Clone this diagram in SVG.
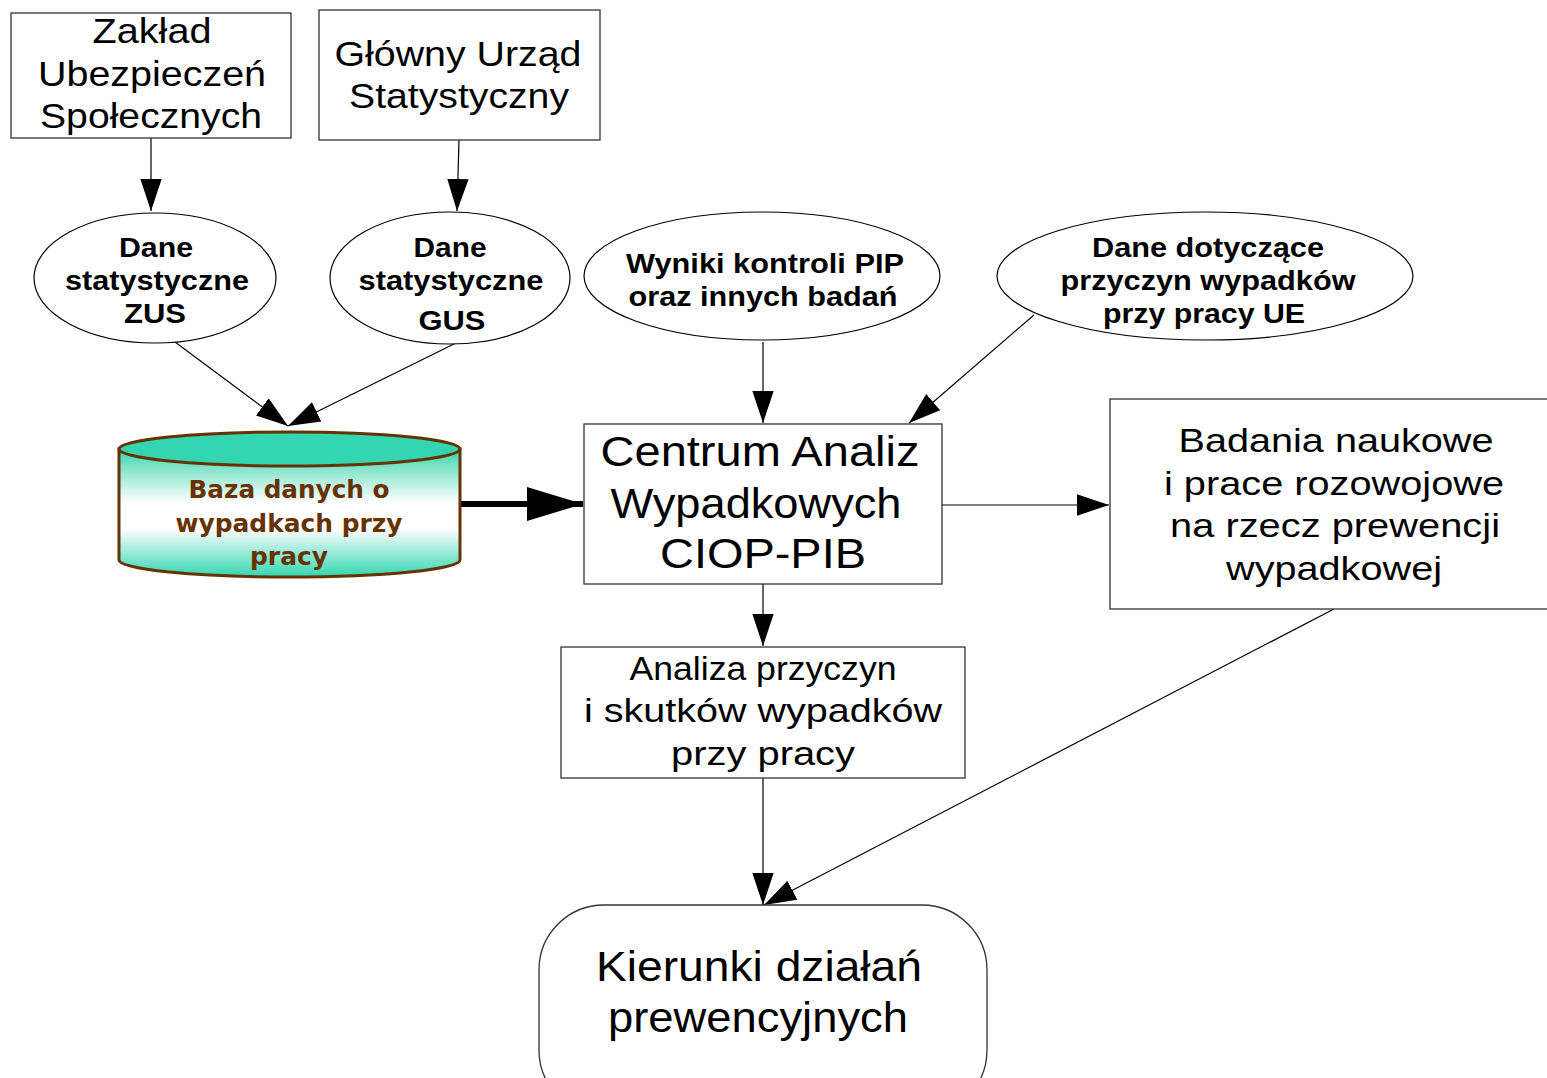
<svg xmlns="http://www.w3.org/2000/svg" width="1547" height="1078" viewBox="0 0 1547 1078">
<defs>
<style>
.box{fill:#fff;stroke:#333;stroke-width:1.3}
.ell{fill:#fff;stroke:#000;stroke-width:1.2}
.t{font-family:"Liberation Sans",Arial,sans-serif;fill:#000;text-anchor:middle}
.b{font-family:"Liberation Sans",Arial,sans-serif;font-weight:bold;fill:#000;text-anchor:middle}
.db{font-family:"DejaVu Sans",Verdana,sans-serif;font-weight:bold;fill:#663300;text-anchor:middle}
.ln{stroke:#000;stroke-width:1.2;fill:none;marker-end:url(#ah)}
</style>
<marker id="ah" markerUnits="userSpaceOnUse" markerWidth="32" markerHeight="24" viewBox="0 0 30 20" refX="30" refY="10" orient="auto">
<path d="M0,0 L30,10 L0,20 Z" fill="#000"/>
</marker>
<marker id="ahBig" markerUnits="userSpaceOnUse" markerWidth="56" markerHeight="34" viewBox="0 0 56 34" refX="56" refY="17" orient="auto">
<path d="M0,0 L56,17 L0,34 Z" fill="#000"/>
</marker>
<linearGradient id="cyl" x1="0" y1="0" x2="0" y2="1">
<stop offset="0" stop-color="#33d6b0"/>
<stop offset="0.14" stop-color="#7fe3c8"/>
<stop offset="0.42" stop-color="#ffffff"/>
<stop offset="0.62" stop-color="#ffffff"/>
<stop offset="1" stop-color="#33d6b0"/>
</linearGradient>
</defs>
<rect width="1547" height="1078" fill="#fff"/>

<g id="connectors">
<line class="ln" x1="151" y1="138" x2="151" y2="211"/>
<line class="ln" x1="459" y1="140" x2="457" y2="211"/>
<line class="ln" x1="175" y1="342" x2="288" y2="426"/>
<line class="ln" x1="458" y1="342" x2="288" y2="426"/>
<line class="ln" x1="763" y1="342" x2="763" y2="423"/>
<line class="ln" x1="1034" y1="315" x2="909" y2="423"/>
<line x1="460" y1="504" x2="583" y2="504" stroke="#000" stroke-width="6" marker-end="url(#ahBig)"/>
<line class="ln" x1="942" y1="505" x2="1109" y2="505"/>
<line class="ln" x1="763" y1="584" x2="763" y2="646"/>
<line class="ln" x1="763" y1="778" x2="763" y2="905"/>
<line class="ln" x1="1334" y1="609" x2="764" y2="905"/>
</g>

<g id="zus">
<rect class="box" x="11" y="13" width="280" height="125"/>
<text class="t" font-size="35" x="152" y="43" textLength="119" lengthAdjust="spacingAndGlyphs">Zakład</text>
<text class="t" font-size="35" x="152" y="86" textLength="228" lengthAdjust="spacingAndGlyphs">Ubezpieczeń</text>
<text class="t" font-size="35" x="151" y="128" textLength="222" lengthAdjust="spacingAndGlyphs">Społecznych</text>
</g>

<g id="gus">
<rect class="box" x="319" y="10" width="281" height="130"/>
<text class="t" font-size="35" x="458" y="66" textLength="247" lengthAdjust="spacingAndGlyphs">Główny Urząd</text>
<text class="t" font-size="35" x="459" y="108" textLength="220" lengthAdjust="spacingAndGlyphs">Statystyczny</text>
</g>

<g id="dane-zus">
<ellipse class="ell" cx="155" cy="278" rx="121" ry="65"/>
<text class="b" font-size="27" x="156" y="257" textLength="74" lengthAdjust="spacingAndGlyphs">Dane</text>
<text class="b" font-size="27" x="157" y="290" textLength="184" lengthAdjust="spacingAndGlyphs">statystyczne</text>
<text class="b" font-size="27" x="155" y="323" textLength="62" lengthAdjust="spacingAndGlyphs">ZUS</text>
</g>

<g id="dane-gus">
<ellipse class="ell" cx="450" cy="278" rx="120" ry="66"/>
<text class="b" font-size="27" x="450" y="257" textLength="73" lengthAdjust="spacingAndGlyphs">Dane</text>
<text class="b" font-size="27" x="451" y="290" textLength="185" lengthAdjust="spacingAndGlyphs">statystyczne</text>
<text class="b" font-size="27" x="452" y="330" textLength="67" lengthAdjust="spacingAndGlyphs">GUS</text>
</g>

<g id="pip">
<ellipse class="ell" cx="762" cy="276" rx="178" ry="64"/>
<text class="b" font-size="27" x="765" y="273" textLength="278" lengthAdjust="spacingAndGlyphs">Wyniki kontroli PIP</text>
<text class="b" font-size="27" x="763" y="306" textLength="269" lengthAdjust="spacingAndGlyphs">oraz innych badań</text>
</g>

<g id="ue">
<ellipse class="ell" cx="1205" cy="276" rx="208" ry="64"/>
<text class="b" font-size="27" x="1208" y="257" textLength="232" lengthAdjust="spacingAndGlyphs">Dane dotyczące</text>
<text class="b" font-size="27" x="1208" y="290" textLength="295" lengthAdjust="spacingAndGlyphs">przyczyn wypadków</text>
<text class="b" font-size="27" x="1204" y="323" textLength="202" lengthAdjust="spacingAndGlyphs">przy pracy UE</text>
</g>

<g id="baza">
<path d="M119,449 L119,560 A170.5,17 0 0 0 460,560 L460,449 Z" fill="url(#cyl)" stroke="#663300" stroke-width="3"/>
<ellipse cx="289.5" cy="449" rx="170.5" ry="17" fill="#33d6b0" stroke="#663300" stroke-width="3"/>
<text class="db" font-size="24" x="289" y="498" textLength="201" lengthAdjust="spacingAndGlyphs">Baza danych o</text>
<text class="db" font-size="24" x="289" y="532" textLength="227" lengthAdjust="spacingAndGlyphs">wypadkach przy</text>
<text class="db" font-size="24" x="289" y="565" textLength="78" lengthAdjust="spacingAndGlyphs">pracy</text>
</g>

<g id="centrum">
<rect class="box" x="584" y="424" width="358" height="160"/>
<text class="t" font-size="42" x="760" y="466" textLength="319" lengthAdjust="spacingAndGlyphs">Centrum Analiz</text>
<text class="t" font-size="42" x="756" y="518" textLength="291" lengthAdjust="spacingAndGlyphs">Wypadkowych</text>
<text class="t" font-size="42" x="763" y="568" textLength="206" lengthAdjust="spacingAndGlyphs">CIOP-PIB</text>
</g>

<g id="badania">
<rect class="box" x="1110" y="399" width="445" height="210"/>
<text class="t" font-size="34" x="1336" y="452" textLength="315" lengthAdjust="spacingAndGlyphs">Badania naukowe</text>
<text class="t" font-size="34" x="1334" y="495" textLength="340" lengthAdjust="spacingAndGlyphs">i prace rozowojowe</text>
<text class="t" font-size="34" x="1335" y="537" textLength="330" lengthAdjust="spacingAndGlyphs">na rzecz prewencji</text>
<text class="t" font-size="34" x="1334" y="580" textLength="216" lengthAdjust="spacingAndGlyphs">wypadkowej</text>
</g>

<g id="analiza">
<rect class="box" x="561" y="647" width="404" height="131"/>
<text class="t" font-size="34" x="763" y="680" textLength="267" lengthAdjust="spacingAndGlyphs">Analiza przyczyn</text>
<text class="t" font-size="34" x="763" y="722" textLength="358" lengthAdjust="spacingAndGlyphs">i skutków wypadków</text>
<text class="t" font-size="34" x="763" y="765" textLength="184" lengthAdjust="spacingAndGlyphs">przy pracy</text>
</g>

<g id="kierunki">
<rect class="box" x="539" y="905" width="448" height="210" rx="65" ry="65"/>
<text class="t" font-size="42" x="759" y="981" textLength="326" lengthAdjust="spacingAndGlyphs">Kierunki działań</text>
<text class="t" font-size="42" x="758" y="1032" textLength="300" lengthAdjust="spacingAndGlyphs">prewencyjnych</text>
</g>
</svg>
